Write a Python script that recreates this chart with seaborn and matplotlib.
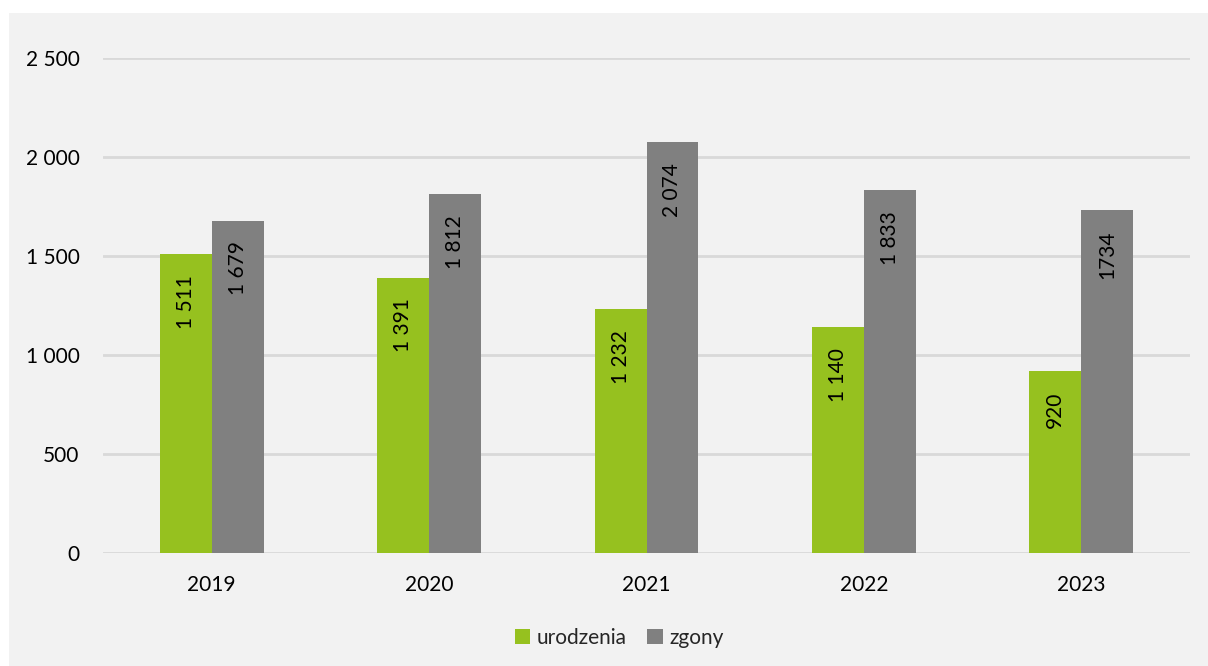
import matplotlib
matplotlib.use("Agg")
import matplotlib.pyplot as plt
import seaborn as sns
import pandas as pd
from matplotlib.patches import Rectangle

years = ["2019", "2020", "2021", "2022", "2023"]
urodzenia = [1511, 1391, 1232, 1140, 920]
zgony = [1679, 1812, 2074, 1833, 1734]
urodzenia_labels = ["1 511", "1 391", "1 232", "1 140", "920"]
zgony_labels = ["1 679", "1 812", "2 074", "1 833", "1734"]
series_names = ["urodzenia", "zgony"]
colors = ["#96c11f", "#808080"]
yticks = [0, 500, 1000, 1500, 2000, 2500]
ytick_labels = ["0", "500", "1 000", "1 500", "2 000", "2 500"]

df = pd.DataFrame({
    "rok": years * 2,
    "seria": [series_names[0]] * 5 + [series_names[1]] * 5,
    "wartosc": urodzenia + zgony,
})

sns.set_theme(style="white")
plt.rcParams["font.family"] = ["Lato", "DejaVu Sans"]

FS = 15
W, H = 1208, 666
fig = plt.figure(figsize=(W / 100, H / 100), dpi=100, facecolor="white")
fig.patches.append(Rectangle((9 / W, 0), 1 - 9 / W, 1 - 13 / H,
                             transform=fig.transFigure, facecolor="#f2f2f2",
                             edgecolor="none", zorder=-10))

ax = fig.add_axes([103 / W, 1 - 553 / H, (1190 - 103) / W, (553 - 58) / H])
ax.set_zorder(5)
ax.set_facecolor("#f2f2f2")
ax.patch.set_alpha(0)

sns.barplot(data=df, x="rok", y="wartosc", hue="seria", palette=colors,
            width=0.478, gap=0, saturation=1, ax=ax, legend=True,
            edgecolor="none", linewidth=0, zorder=3)

ax.set_ylim(0, 2500)
ax.set_xlim(-0.5, 4.5)
ax.set_yticks(yticks)
ax.set_yticklabels(ytick_labels)
ax.yaxis.grid(True, color="#d9d9d9", linewidth=2, zorder=0)
ax.set_axisbelow(True)
for s in ax.spines.values():
    s.set_visible(False)
ax.tick_params(axis="both", length=0, labelsize=FS, colors="black")
ax.tick_params(axis="y", pad=17)
ax.tick_params(axis="x", pad=16)
ax.set_xlabel("")
ax.set_ylabel("")

label_sets = [urodzenia_labels, zgony_labels]
for cont, labs in zip(ax.containers, label_sets):
    texts = ax.bar_label(cont, labels=labs, label_type="edge", rotation=90,
                         padding=-15, fontsize=FS, color="black")
    for t in texts:
        t.set_va("top")
        t.set_ha("center")

handles, labels = ax.get_legend_handles_labels()
ax.get_legend().remove()
fig.legend(handles, labels, loc="center",
           bbox_to_anchor=(619 / W, 1 - 638 / H), ncol=2,
           frameon=False, fontsize=FS, handlelength=0.75,
           handleheight=0.75, handletextpad=0.3, columnspacing=1.0)

fig.savefig("out.png", dpi=100, facecolor="white")
